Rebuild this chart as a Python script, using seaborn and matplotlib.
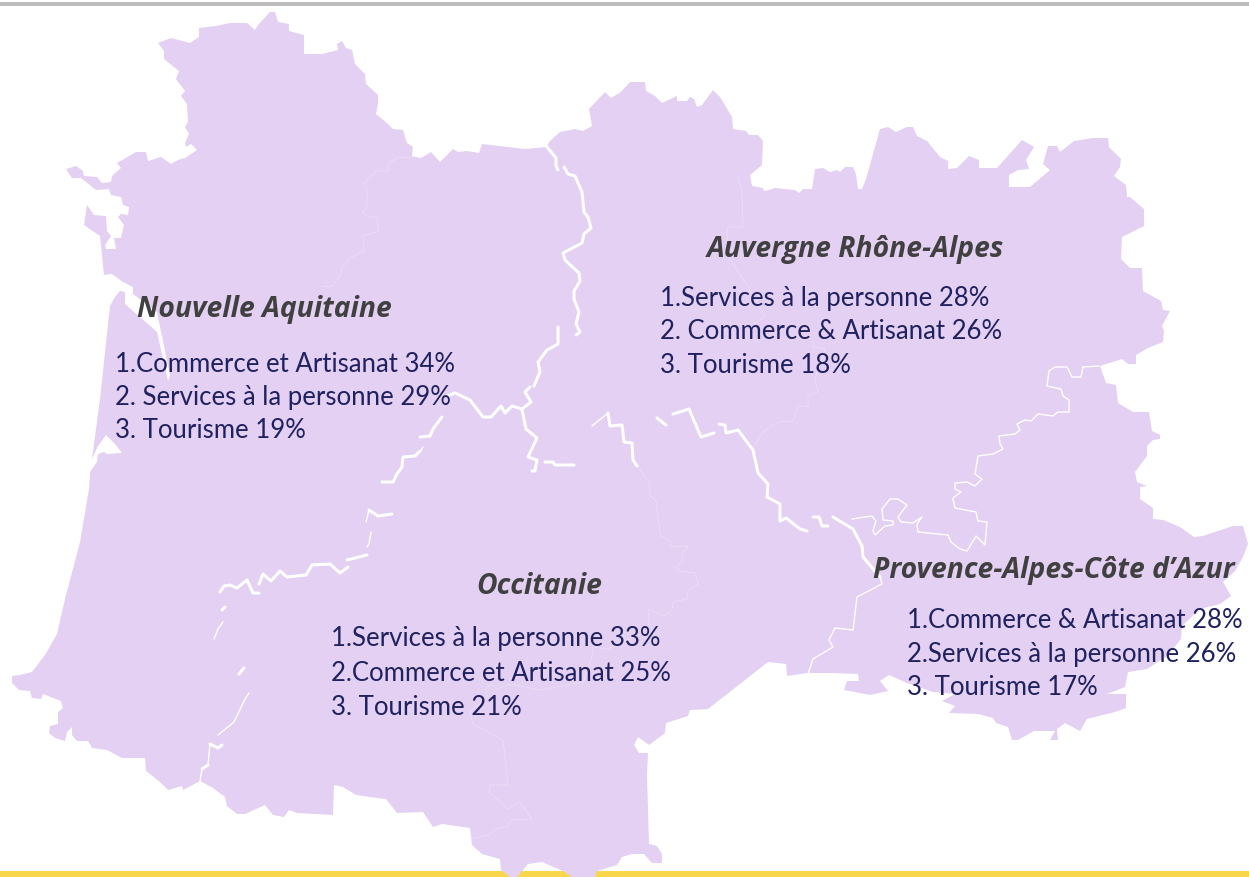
import matplotlib
matplotlib.use("Agg")
import matplotlib.pyplot as plt
import pandas as pd
import seaborn as sns

# contour of the four regions, clockwise from the north of Nouvelle Aquitaine (image pixels)
outline = [
    (158,44),(171,39),(190,44),(199,38),(199,29),(216,27),(230,24),(247,24),(255,31),(258,26),(270,13),(275,13),
    (278,23),(289,25),(289,32),(304,36),(304,55),(322,55),(338,51),(337,45),(342,42),(346,49),(352,51),(355,65),
    (365,75),(366,85),(378,96),(378,105),(376,115),(388,125),(393,130),(403,131),(407,144),(413,148),(412,157),
    (420,159),(423,158),(431,153),(440,163),(453,150),(458,153),(466,152),(479,154),(482,145),(525,150),(547,148),
    (549,143),(560,133),(575,130),(583,132),(592,127),(589,110),(605,93),(611,99),(621,93),(630,83),(645,83),
    (646,92),(655,97),(662,104),(677,97),(677,102),(687,102),(690,98),(694,100),(697,108),(702,106),(713,91),
    (720,98),(732,118),(733,130),(746,132),(749,136),(758,136),(763,142),(762,166),(750,176),(752,187),(763,189),
    (764,192),(769,191),(775,189),(795,191),(799,194),(803,190),(812,190),(815,170),(823,169),(830,173),(837,171),
    (840,173),(845,168),(853,168),(856,175),(858,190),(862,190),(866,180),(880,130),(888,128),(896,133),(907,128),
    (913,128),(917,137),(927,142),(940,158),(948,162),(948,170),(957,169),(969,157),(979,161),(979,169),(997,169),
    (1022,141),(1034,148),(1026,161),(1029,170),(1018,171),(1009,176),(1009,188),(1030,188),(1050,171),(1043,165),
    (1048,147),(1057,147),(1060,153),(1074,142),(1093,139),(1108,139),(1109,148),(1121,160),(1120,168),(1114,177),
    (1126,186),(1127,198),(1130,198),(1144,210),(1144,227),(1122,238),(1121,260),(1130,269),(1142,269),(1143,292),
    (1161,302),(1163,311),(1170,312),(1162,327),(1164,332),(1163,343),(1148,349),(1136,356),(1136,365),(1128,365),
    (1122,360),(1100,367),(1106,384),(1116,386),(1118,404),(1133,413),(1149,413),(1152,432),(1160,436),(1160,440),
    (1153,441),(1147,447),(1147,457),(1135,473),(1137,483),(1147,487),(1140,488),(1140,500),(1153,509),(1153,520),
    (1163,521),(1180,528),(1194,538),(1203,537),(1233,527),(1243,527),(1248,545),(1243,558),(1235,572),(1223,583),
    (1231,597),(1220,605),(1200,610),(1182,627),(1181,640),(1167,657),(1147,670),(1128,673),(1125,688),(1107,695),
    (1126,695),(1126,709),(1115,713),(1087,720),(1080,732),(1065,724),(1057,730),(1058,741),(1050,741),(1055,732),
    (1034,732),(1018,741),(1012,741),(1008,728),(996,724),(993,719),(978,715),(949,714),(955,707),(942,702),(955,695),
    (933,693),(907,684),(889,676),(880,682),(888,692),(870,696),(844,691),(847,682),(859,682),(858,675),(830,674),
    (808,674),(787,677),(786,665),(768,663),(708,710),(690,711),(688,717),(666,724),(665,734),(649,746),(638,738),
    (634,746),(639,754),(648,754),(647,775),(649,845),(657,847),(662,855),(662,864),(652,864),(644,855),(632,855),
    (622,858),(617,866),(597,872),(595,878),(572,878),(563,872),(542,863),(528,865),(517,878),(510,878),(501,871),
    (500,860),(482,855),(472,846),(470,829),(442,825),(433,828),(423,813),(397,814),(386,800),(377,799),(356,796),
    (343,788),(334,786),(333,816),(297,814),(289,811),(284,818),(273,816),(265,806),(245,815),(237,815),(227,807),
    (225,798),(213,789),(200,782),(183,791),(182,787),(168,791),(160,783),(146,772),(145,759),(122,759),(107,751),
    (92,749),(88,742),(77,742),(72,736),(72,728),(67,733),(65,742),(55,739),(49,734),(50,727),(58,725),(58,713),
    (63,709),(61,702),(43,695),(41,700),(32,699),(30,692),(19,691),(12,684),(12,677),(20,676),(32,673),(45,656),
    (57,635),(65,600),(80,543),(89,490),(90,473),(97,463),(98,455),(104,453),(107,455),(122,454),(115,445),(106,436),
    (98,447),(92,460),(100,400),(110,307),(115,298),(120,292),(125,293),(125,305),(157,333),(168,382),(170,377),
    (162,337),(157,313),(133,295),(133,288),(123,283),(112,275),(104,276),(100,237),(84,226),(87,206),(94,216),
    (106,217),(107,232),(111,237),(105,246),(106,250),(116,250),(114,239),(121,239),(124,226),(118,218),(121,215),
    (128,216),(129,208),(123,206),(121,198),(111,196),(109,190),(96,191),(81,179),(72,179),(66,170),(76,167),(83,172),
    (84,177),(97,178),(102,184),(111,183),(112,177),(121,169),(117,164),(136,153),(146,153),(148,162),(161,158),
    (171,165),(178,161),(185,159),(197,151),(191,145),(186,148),(185,144),(189,135),(185,128),(188,123),(187,105),
    (181,97),(185,92),(176,80),(179,72),(164,60),(164,52),
]

# borders between regions, drawn in white
thick_borders = [
    [(547,148),(556,159),(556,167),(558,171)],
    [(564,168),(568,175),(575,177),(582,193),(584,213),(588,218),(591,229),(584,235),(582,244),(563,254),(565,261),
     (579,274),(580,282),(574,292),(574,300),(579,313),(576,325),(580,333),(576,336)],
    [(558,328),(558,345),(547,351),(538,363),(540,373),(534,387)],
    [(530,388),(525,393),(531,403),(522,410),(512,407),(505,414),(501,407),(491,418),(483,418),(470,401),(455,394),(447,397)],
    [(522,410),(526,430),(537,439),(528,458),(537,461),(535,472),(532,472)],
    [(545,463),(553,463),(555,466),(574,466)],
    [(608,414),(610,427),(622,426),(624,443),(632,444),(633,461),(637,467)],
    [(657,419),(666,426)],
    [(673,415),(689,410),(701,438),(714,434)],
    [(719,425),(725,426),(726,434),(738,431),(753,451),(758,474),(768,485),(767,498),(780,505),(780,522),(786,519),(800,530),(807,532)],
    [(813,518),(819,518),(822,527),(828,527)],
    [(833,518),(853,530),(862,547),(863,558),(880,578)],
    [(442,418),(433,430),(430,437),(420,438)],
    [(420,452),(415,457),(403,458),(402,468),(397,475),(393,483),(382,483)],
    [(392,515),(378,517),(369,511)],
    [(367,556),(347,561)],
    [(348,568),(340,574),(330,565),(312,566),(306,576),(287,578),(280,572),(271,582),(263,575),(259,585)],
    [(259,594),(253,594),(247,581),(237,589),(230,586),(224,587),(220,593)],
    [(225,608),(222,611)],
    [(244,669),(239,675)],
    [(222,746),(218,749),(210,745)],
    [(208,766),(202,770)],
]
thin_borders = [
    [(369,511),(366,523)],
    [(371,533),(369,545),(367,548)],
    [(423,448),(420,453)],
    [(223,623),(218,630),(214,640)],
    [(249,694),(245,700),(234,723),(218,736)],
    [(210,745),(208,766)],
    [(202,770),(200,782)],
    [(592,427),(608,414)],
    [(880,578),(882,585),(857,598),(853,631),(835,629),(829,641),(833,648),(813,660),(808,675)],
    [(852,520),(872,517),(876,522),(873,532),(875,536),(885,527),(893,526),(893,522),(883,521),(882,510),(890,500),
     (898,500),(907,506),(898,518),(901,523),(913,524),(922,518),(917,525),(918,533),(948,536),(951,543),(960,550),
     (967,552),(976,537),(985,546),(987,523),(978,522),(976,513),(955,509),(953,500),(954,498),(961,493),(955,490),
     (955,484),(967,483),(975,487),(982,480),(975,475),(978,457),(993,455),(1003,450),(1000,445),(999,437),(1015,435),
     (1020,431),(1017,425),(1025,421),(1031,422),(1038,415),(1053,417),(1058,413),(1069,413),(1069,401),(1063,397),
     (1061,390),(1047,387),(1049,372),(1055,368),(1067,368),(1072,378),(1081,378),(1083,368),(1099,367)],
]
# fainter department limits
faint_borders = [
    [(413,158),(397,159),(388,165),(388,172),(376,172),(363,185),(367,190),(367,207),(363,213),(368,218),(377,218),
     (379,232),(363,237),(364,252),(350,259),(342,269),(340,277),(332,287),(322,288)],
    [(738,178),(742,193),(743,228),(728,228),(727,233),(728,257),(745,283),(765,317),(753,325)],
    [(813,340),(813,348),(825,350),(815,380),(818,393),(808,397),(808,407),(798,408),(793,422),(778,423),(763,433),(753,448)],
    [(637,467),(649,483),(650,497),(656,502),(658,520),(661,537),(670,542),(671,548),(688,547),(683,553),(682,563),
     (677,567),(678,572),(695,574),(698,585),(688,591),(687,600),(673,603),(672,611),(664,617),(648,610),(649,625),
     (640,635),(608,650),(593,648),(592,658),(583,683),(540,691),(515,686),(510,685),(497,690),(492,685),(485,690),
     (488,698),(470,713),(473,725),(503,741),(508,786),(490,786),(489,793),(508,810),(520,803),(532,820),(511,821),
     (508,827),(497,830),(490,835),(471,840)],
]

regions = ["Nouvelle Aquitaine", "Auvergne Rhône-Alpes", "Occitanie", "Provence-Alpes-Côte d’Azur"]
secteurs = [
    ["1.Commerce et Artisanat 34%", "2. Services à la personne 29%", "3. Tourisme 19%"],
    ["1.Services à la personne 28%", "2. Commerce & Artisanat 26%", "3. Tourisme 18%"],
    ["1.Services à la personne 33%", "2.Commerce et Artisanat 25%", "3. Tourisme 21%"],
    ["1.Commerce & Artisanat 28%", "2.Services à la personne 26%", "3. Tourisme 17%"],
]
title_pos = [(137, 317), (707, 257), (476, 594), (873, 578)]
list_pos = [(115, 372), (660, 306), (331, 646), (907, 628)]
line_steps = [
    [0, 33, 66],
    [0, 33, 67],
    [0, 35, 69],
    [0, 34, 67],
]


def draw_borders(ax, segments, width, alpha=1.0):
    rows = [(i, x, y) for i, seg in enumerate(segments) for x, y in seg]
    df = pd.DataFrame(rows, columns=["seg", "x", "y"])
    sns.lineplot(data=df, x="x", y="y", units="seg", estimator=None, sort=False,
                 color="white", linewidth=width, alpha=alpha, ax=ax, legend=False)


sns.set_theme(style="white")
plt.rcParams["font.family"] = ["Lato", "DejaVu Sans"]

fig = plt.figure(figsize=(12.49, 8.78), dpi=100)
ax = fig.add_axes([0, 0, 1, 1])

ax.axhspan(3, 7, color="#BDBDBD", lw=0)
ax.axhspan(872, 878, color="#FAD64A", lw=0)
ax.fill([p[0] for p in outline], [p[1] for p in outline], color="#E3D0F2", lw=0)

draw_borders(ax, thick_borders, 2.2)
draw_borders(ax, thin_borders, 1.0)
draw_borders(ax, faint_borders, 0.6, alpha=0.3)

for name, lines, tpos, lpos, steps in zip(regions, secteurs, title_pos, list_pos, line_steps):
    ax.text(tpos[0], tpos[1], name, family="Open Sans", style="italic", weight="bold",
            fontsize=20.3, color="#404040", va="baseline", ha="left")
    for line, dy in zip(lines, steps):
        ax.text(lpos[0], lpos[1] + dy, line, fontsize=18.5, color="#1F2160", va="baseline", ha="left")

ax.set_xlim(0, 1249)
ax.set_ylim(878, 0)
ax.axis("off")

fig.savefig("out.png", dpi=100)
